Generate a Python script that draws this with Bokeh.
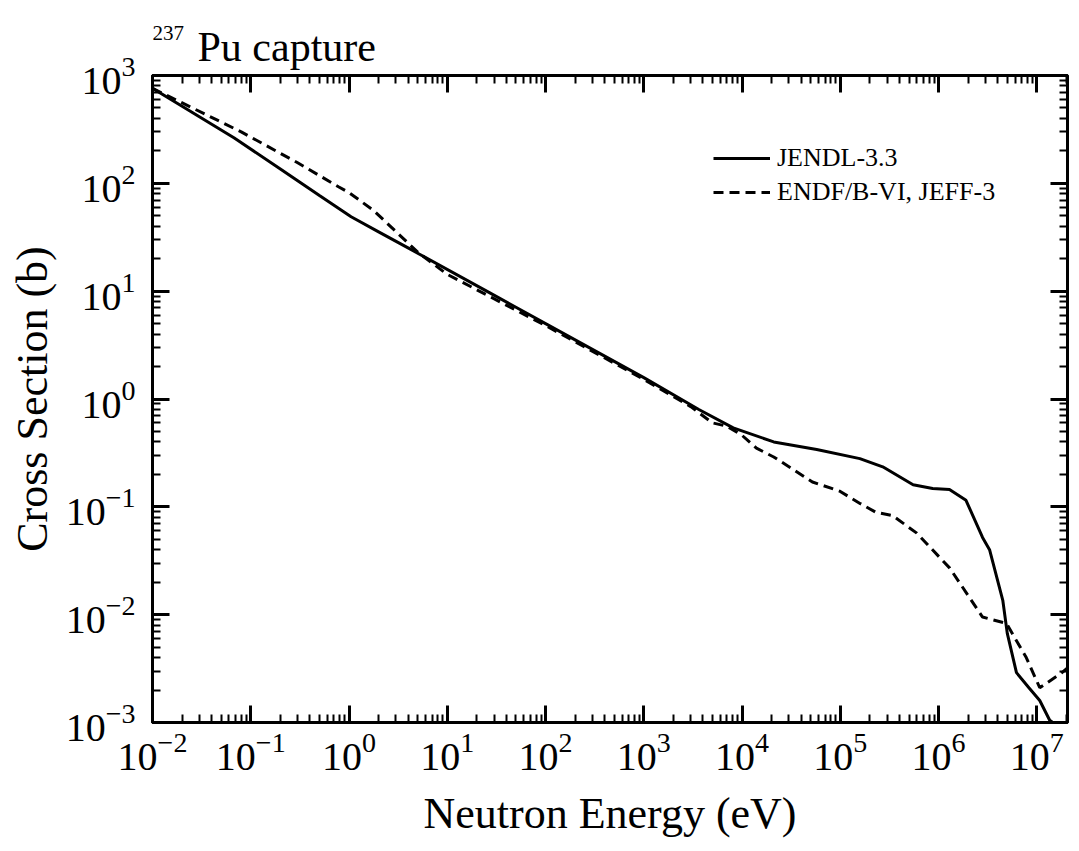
from bokeh.plotting import figure
from bokeh.models import LogAxis, FixedTicker, Legend, LegendItem, Label, Range1d
from bokeh.embed import file_html
from bokeh.resources import INLINE

# JENDL-3.3 (solid)
jendl_e = [0.01, 0.02, 0.068, 0.2, 0.5, 1.05, 2.0, 5.0, 25.7, 100, 1000, 3630, 8130,
           2.1e4, 5.75e4, 1.58e5, 2.7e5, 5.5e5, 8.7e5, 1.29e6, 1.9e6, 2.8e6, 3.3e6,
           4.5e6, 5.0e6, 6.2e6, 8.3e6, 1.07e7, 1.35e7, 1.45e7]
jendl_xs = [760, 519, 263, 136, 77, 49, 35.5, 22.5, 9.9, 5.0, 1.58, 0.80, 0.54,
            0.40, 0.34, 0.28, 0.235, 0.16, 0.148, 0.145, 0.115, 0.052, 0.040,
            0.0136, 0.0067, 0.0029, 0.0021, 0.0016, 0.00105, 0.001]

# ENDF/B-VI, JEFF-3 (dashed)
endf_e = [0.01, 0.08, 0.3, 0.78, 1.0, 1.78, 5.0, 10, 100, 1000, 3000, 5000, 7000,
          1e4, 1.4e4, 2.1e4, 5.2e4, 9.8e4, 1.6e5, 2.3e5, 3.4e5, 6e5, 1.3e6, 2.8e6,
          4.9e6, 7.8e6, 1.07e7, 1.8e7, 2.05e7]
endf_xs = [760, 300, 155, 93, 82, 56, 23, 14.3, 4.8, 1.52, 0.85, 0.60, 0.56,
           0.46, 0.35, 0.29, 0.17, 0.14, 0.107, 0.089, 0.083, 0.057, 0.027, 0.0095,
           0.0083, 0.0040, 0.0021, 0.0029, 0.0032]

x_exponents = list(range(-2, 8))
y_exponents = list(range(-3, 4))

FONT = "Liberation Serif"

x_major = [10.0 ** k for k in x_exponents]
x_minor = [m * 10.0 ** k for k in x_exponents for m in range(2, 10)]
y_major = [10.0 ** k for k in y_exponents]
y_minor = [m * 10.0 ** k for k in y_exponents for m in range(2, 10)]

p = figure(width=1076, height=851, x_axis_type="log", y_axis_type="log",
           x_range=Range1d(1e-2, 2.05e7), y_range=Range1d(1e-3, 1e3),
           output_backend="svg", toolbar_location=None,
           min_border_left=152, min_border_right=9, min_border_top=75,
           min_border_bottom=129)
p.xgrid.visible = False
p.ygrid.visible = False
p.outline_line_color = "black"
p.outline_line_width = 3
p.background_fill_color = "white"
p.border_fill_color = "white"

def style_axis(ax, labels=True):
    ax.major_tick_in = 17
    ax.major_tick_out = 0
    ax.minor_tick_in = 8
    ax.minor_tick_out = 0
    ax.axis_line_width = 3
    ax.major_tick_line_width = 3
    ax.minor_tick_line_width = 2
    ax.axis_line_color = "black"
    ax.major_tick_line_color = "black"
    ax.minor_tick_line_color = "black"
    if labels:
        ax.major_label_text_font = FONT
        ax.major_label_text_font_size = "40px"
        ax.major_label_text_color = "black"
        ax.axis_label_text_font = FONT
        ax.axis_label_text_font_size = "44px"
        ax.axis_label_text_font_style = "normal"
        ax.axis_label_text_color = "black"
    else:
        ax.major_label_text_font_size = "6px"
        ax.major_label_text_alpha = 0
        ax.major_label_standoff = 0

xt = FixedTicker(ticks=x_major, minor_ticks=x_minor)
yt = FixedTicker(ticks=y_major, minor_ticks=y_minor)

p.xaxis.ticker = xt
p.yaxis.ticker = yt
p.xaxis.axis_label = "Neutron Energy (eV)"
p.yaxis.axis_label = "Cross Section (b)"
style_axis(p.xaxis[0])
style_axis(p.yaxis[0])
p.xaxis.major_label_standoff = 10
p.xaxis.axis_label_standoff = 16
p.yaxis.major_label_standoff = 17
p.yaxis.axis_label_standoff = 6

r1 = p.line(jendl_e, jendl_xs, line_color="black", line_width=3)
r2 = p.line(endf_e, endf_xs, line_color="black", line_width=3, line_dash="10 6")

legend = Legend(items=[LegendItem(label="JENDL-3.3", renderers=[r1]),
                       LegendItem(label="ENDF/B-VI, JEFF-3", renderers=[r2])],
                location=(561, 513), border_line_alpha=0, background_fill_alpha=0,
                label_text_font=FONT, label_text_font_size="26px",
                label_text_color="black",
                glyph_width=57, glyph_height=34, label_height=34, spacing=0,
                padding=0, margin=0, label_standoff=7)
p.add_layout(legend)

top = LogAxis(ticker=FixedTicker(ticks=x_major, minor_ticks=x_minor))
right = LogAxis(ticker=FixedTicker(ticks=y_major, minor_ticks=y_minor))
style_axis(top, labels=False)
style_axis(right, labels=False)
p.add_layout(top, "above")
p.add_layout(right, "right")

# title pieces (placed in the panels above the frame)
p.add_layout(Label(x=0, y=43, x_units="screen", y_units="screen",
                   text="237", text_font=FONT, text_font_size="21px",
                   text_baseline="alphabetic", text_color="black"), "above")
p.add_layout(Label(x=45, y=15, x_units="screen", y_units="screen",
                   text="Pu capture", text_font=FONT, text_font_size="42px",
                   text_baseline="alphabetic", text_color="black"), "above")

open("out.html", "w").write(file_html(p, INLINE))
